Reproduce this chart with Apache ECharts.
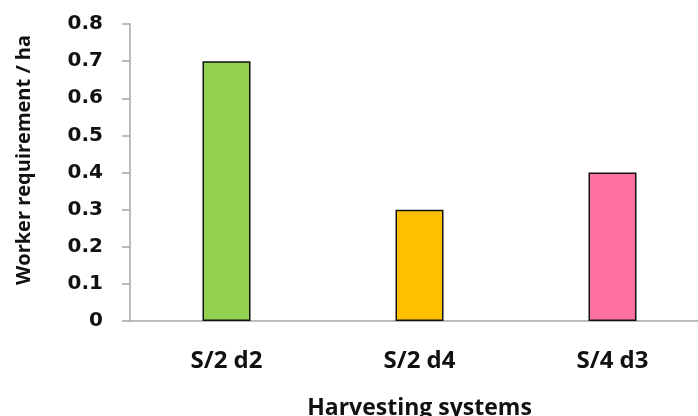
<!DOCTYPE html>
<html>
<head>
<meta charset="utf-8">
<style>
  html, body { margin: 0; padding: 0; background: #ffffff; }
  #chart { width: 698px; height: 416px; }
</style>
<script src="https://cdn.jsdelivr.net/npm/echarts@6/dist/echarts.min.js"></script>
</head>
<body>
<div id="chart"></div>
<script>
// Harvesting systems and their worker requirement per hectare
const categories = ['S/2 d2', 'S/2 d4', 'S/4 d3'];
const workerPerHa = [0.7, 0.3, 0.4];
const barColors = ['#92D050', '#FFC000', '#FF729F'];
const yTicks = { min: 0, max: 0.8, interval: 0.1 };

const labelFont = '"Open Sans", "DejaVu Sans", sans-serif';
const tickFont = '"DejaVu Sans", Verdana, sans-serif';

const chart = echarts.init(document.getElementById('chart'), null, { renderer: 'canvas' });

chart.setOption({
  animation: false,
  backgroundColor: '#ffffff',
  grid: {
    left: 130, top: 24, width: 579, bottom: 95,
    containLabel: false,
    outerBoundsMode: 'none'
  },
  xAxis: {
    type: 'category',
    data: categories,
    axisLine: { show: true, lineStyle: { color: '#a6a6a6', width: 1.5 } },
    axisTick: { show: false },
    axisLabel: {
      margin: 28,
      color: '#111111',
      fontFamily: labelFont,
      fontWeight: 'bold',
      fontSize: 24
    },
    name: 'Harvesting systems',
    nameLocation: 'middle',
    nameGap: 76,
    nameMoveOverlap: false,
    nameTextStyle: {
      color: '#111111',
      fontFamily: labelFont,
      fontWeight: 'bold',
      fontSize: 23
    },
    splitLine: { show: false }
  },
  yAxis: {
    type: 'value',
    min: yTicks.min,
    max: yTicks.max,
    interval: yTicks.interval,
    axisLine: { show: true, lineStyle: { color: '#a6a6a6', width: 1.5 } },
    axisTick: { show: true, length: 8, lineStyle: { color: '#a6a6a6', width: 1.5 } },
    splitLine: { show: false },
    axisLabel: {
      margin: 27,
      color: '#111111',
      fontFamily: tickFont,
      fontWeight: 'bold',
      fontSize: 20,
      formatter: v => (v === 0 ? '0' : v.toFixed(1))
    }
  },
  graphic: [{
    type: 'text',
    x: 24,
    y: 160,
    rotation: Math.PI / 2,
    style: {
      text: 'Worker requirement / ha',
      fill: '#111111',
      font: 'bold 20px ' + labelFont,
      align: 'center',
      verticalAlign: 'middle'
    }
  }],
  series: [{
    type: 'bar',
    data: workerPerHa.map((v, i) => ({ value: v, itemStyle: { color: barColors[i] } })),
    barWidth: 48,
    itemStyle: { borderColor: '#111111', borderWidth: 1.5 }
  }]
});
</script>
</body>
</html>
